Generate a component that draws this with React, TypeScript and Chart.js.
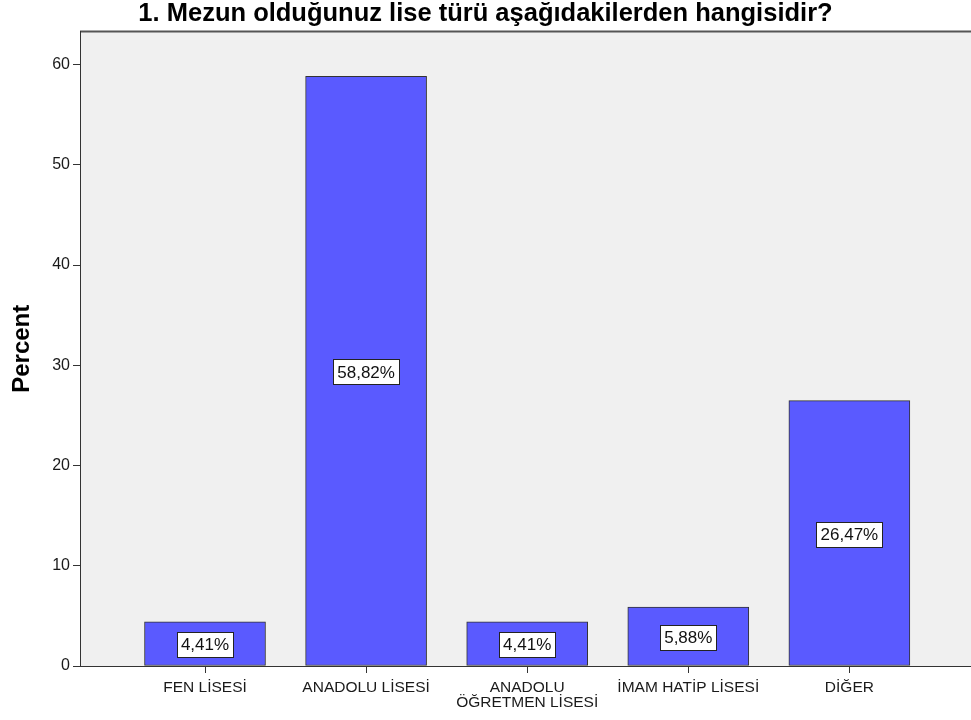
import React, { useEffect, useRef } from 'react';
import { Chart, registerables } from 'chart.js';

Chart.register(...registerables);

const chartTitle = '1. Mezun olduğunuz lise türü aşağıdakilerden hangisidir?';
const yAxisTitle = 'Percent';
const categories: string[][] = [
  ['FEN LİSESİ'],
  ['ANADOLU LİSESİ'],
  ['ANADOLU', 'ÖĞRETMEN LİSESİ'],
  ['İMAM HATİP LİSESİ'],
  ['DİĞER'],
];
const percents = [4.41, 58.82, 4.41, 5.88, 26.47];
const valueLabels = ['4,41%', '58,82%', '4,41%', '5,88%', '26,47%'];
const yTicks = [0, 10, 20, 30, 40, 50, 60];

const FONT = "'Liberation Sans', Arial, sans-serif";

const backgroundPlugin = {
  id: 'spssBackground',
  beforeDraw(chart: any) {
    const { ctx, chartArea } = chart;
    ctx.save();
    ctx.fillStyle = '#f0f0f0';
    ctx.fillRect(chartArea.left, chartArea.top, chartArea.right - chartArea.left, chartArea.bottom - chartArea.top);
    ctx.strokeStyle = '#555555';
    ctx.lineWidth = 2;
    ctx.beginPath();
    ctx.moveTo(chartArea.left, chartArea.top);
    ctx.lineTo(chartArea.right, chartArea.top);
    ctx.stroke();
    ctx.restore();
  },
};

const valueLabelPlugin = {
  id: 'valueLabels',
  afterDatasetsDraw(chart: any) {
    const { ctx } = chart;
    const meta = chart.getDatasetMeta(0);
    ctx.save();
    ctx.font = `17px ${FONT}`;
    ctx.textAlign = 'center';
    ctx.textBaseline = 'middle';
    meta.data.forEach((bar: any, i: number) => {
      const text = valueLabels[i];
      const cx = bar.x;
      const cy = (bar.y + bar.base) / 2 + 1;
      const w = Math.round(ctx.measureText(text).width + 8);
      const h = 25;
      const x0 = Math.round(cx - w / 2) + 0.5;
      const y0 = Math.round(cy - h / 2) + 0.5;
      ctx.fillStyle = '#ffffff';
      ctx.fillRect(x0, y0, w, h);
      ctx.strokeStyle = '#222222';
      ctx.lineWidth = 1;
      ctx.strokeRect(x0, y0, w, h);
      ctx.fillStyle = '#111111';
      ctx.fillText(text, cx, cy + 1);
    });
    ctx.restore();
  },
};

export default function App() {
  const canvasRef = useRef<HTMLCanvasElement | null>(null);

  useEffect(() => {
    if (!canvasRef.current) return;
    const chart = new Chart(canvasRef.current, {
      type: 'bar',
      data: {
        datasets: [
          {
            data: percents.map((y, i) => ({ x: i, y })),
            backgroundColor: '#5a5aff',
            borderColor: '#333333',
            borderWidth: 1,
            borderSkipped: false,
            barThickness: 121,
          },
        ],
      },
      options: {
        responsive: false,
        animation: false,
        devicePixelRatio: 1,
        layout: { padding: 0 },
        plugins: {
          legend: { display: false },
          tooltip: { enabled: false },
          title: {
            display: true,
            text: chartTitle,
            color: '#000000',
            font: { family: FONT, size: 25.5, weight: 'bold', lineHeight: 1.0 },
            padding: { top: 1.5, bottom: 4.5 },
          },
        },
        scales: {
          x: {
            type: 'linear',
            offset: false,
            min: -0.776,
            max: 4.755,
            afterBuildTicks: (scale: any) => {
              scale.ticks = categories.map((_, i) => ({ value: i }));
            },
            afterFit: (scale: any) => {
              scale.height = 54;
            },
            ticks: {
              autoSkip: false,
              maxRotation: 0,
              padding: 8,
              color: '#1a1a1a',
              font: { family: FONT, size: 15.5, lineHeight: 0.93 },
              callback: (value: any) => categories[Math.round(Number(value))] ?? '',
            },
            grid: {
              offset: false,
              drawOnChartArea: false,
              drawTicks: true,
              tickLength: 7,
              color: '#333333',
            },
            border: { display: true, color: '#333333', width: 1 },
          },
          y: {
            type: 'linear',
            min: 0,
            max: 63.3,
            afterBuildTicks: (scale: any) => {
              scale.ticks = yTicks.map((v) => ({ value: v }));
            },
            afterFit: (scale: any) => {
              scale.width = 80;
            },
            ticks: {
              padding: 3,
              color: '#1a1a1a',
              font: { family: FONT, size: 16 },
            },
            grid: {
              drawOnChartArea: false,
              drawTicks: true,
              tickLength: 7,
              color: '#333333',
            },
            border: { display: true, color: '#333333', width: 1 },
            title: {
              display: true,
              text: yAxisTitle,
              color: '#000000',
              font: { family: FONT, size: 24, weight: 'bold' },
              padding: { top: 8, bottom: 0 },
            },
          },
        },
      },
      plugins: [backgroundPlugin, valueLabelPlugin],
    } as any);
    return () => chart.destroy();
  }, []);

  return (
    <div style={{ position: 'fixed', left: 0, top: 0, width: 971, height: 720, background: '#ffffff' }}>
      <canvas ref={canvasRef} width={971} height={720} style={{ display: 'block' }} />
    </div>
  );
}
